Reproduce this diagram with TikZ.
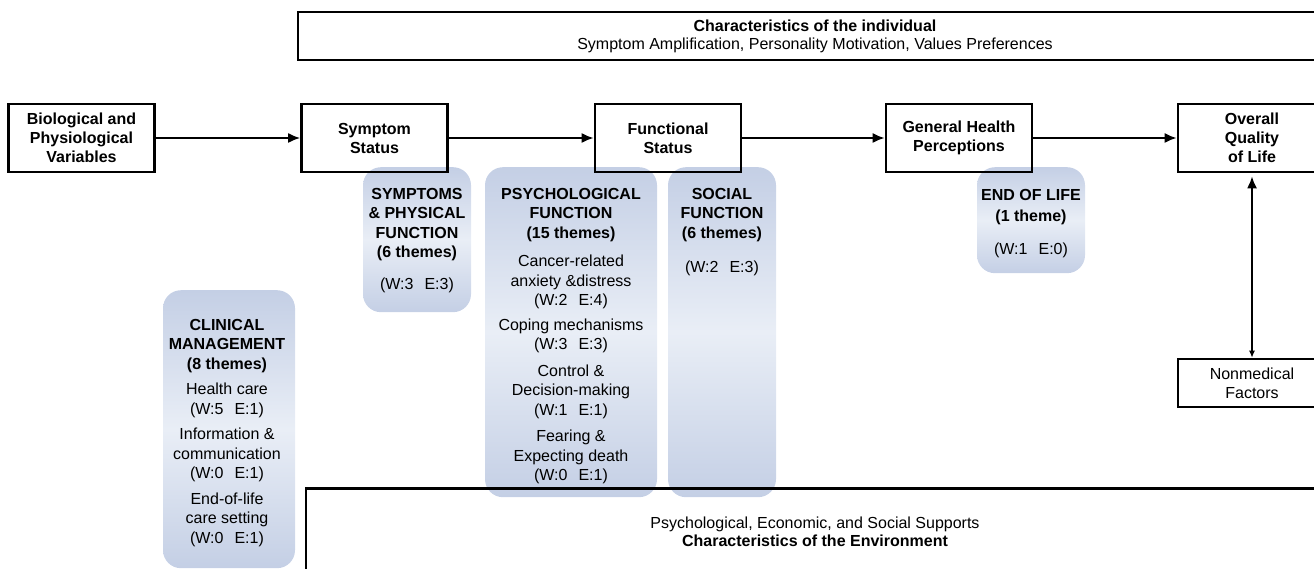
\documentclass[tikz,border=0pt]{standalone}
\usepackage{fontspec}
\setmainfont{Liberation Sans}
\usepackage{xcolor}
\usetikzlibrary{arrows.meta}
\definecolor{panelblue}{RGB}{196,207,229}
\definecolor{panellight}{RGB}{233,238,246}
\newcommand{\tally}[2]{(W:#1\hspace{11pt}E:#2)}

\begin{document}
\begin{tikzpicture}[x=1pt,y=-1pt,
  box/.style={draw,line width=2.6pt,minimum width=146pt,minimum height=68pt,align=center,font=\fontsize{16}{19}\selectfont\bfseries},
  wide/.style={draw,line width=2.4pt,align=center,font=\fontsize{16}{18}\selectfont},
  panel/.style={rounded corners=18pt,top color=panelblue,bottom color=panelblue,middle color=panellight,minimum width=108pt,anchor=north,inner sep=0pt},
  theme/.style={anchor=north,align=center,inner sep=0pt,font=\fontsize{16}{19.5}\selectfont},
  link/.style={line width=2pt,-{Latex[length=12pt,width=10pt]}}]
\clip (0,0) rectangle (1314,569);
\node[panel,minimum height=145pt] (symp) at (417,167) {};
\node[panel,minimum width=172pt,minimum height=330pt] (psyp) at (571,167) {};
\node[panel,minimum height=330pt] (socp) at (722,167) {};
\node[panel,minimum height=106pt] (eolp) at (1031,167) {};
\node[panel,minimum width=132pt,minimum height=278pt] (clip) at (229,290) {};
\node[wide,minimum width=1034pt,minimum height=48pt] (ind) at (815,36) {\textbf{Characteristics of the individual}\\Symptom Amplification, Personality Motivation, Values Preferences};
\node[wide,minimum width=1018pt,minimum height=86pt] (env) at (815,531.5) {Psychological, Economic, and Social Supports\\\textbf{Characteristics of the Environment}};
\node[box] (bio) at (81.5,138) {Biological and\\Physiological\\Variables};
\node[box] (sym) at (374.5,138) {Symptom\\Status};
\node[box] (fun) at (668,138) {Functional\\Status};
\node[box] (ghp) at (959,138) {General Health\\Perceptions};
\node[box,minimum width=148pt] (oql) at (1252,138) {Overall\\Quality\\of Life};
\node[box,minimum width=148pt,minimum height=48pt,font=\fontsize{16}{19}\selectfont] (nmf) at (1252,383) {Nonmedical\\Factors};
\draw[link] (bio.east) -- (sym.west);
\draw[link] (sym.east) -- (fun.west);
\draw[link] (fun.east) -- (ghp.west);
\draw[link] (ghp.east) -- (oql.west);
\draw[line width=2pt,{Latex[length=7pt,width=6pt]}-{Latex[length=12pt,width=10pt]},shorten >=3pt] (nmf.north) -- (oql.south);
\node[theme] (symt) at (417,188) {\textbf{SYMPTOMS}\\\textbf{\& PHYSICAL}\\\textbf{FUNCTION}\\\textbf{(6 themes)}\\[12pt]\tally{3}{3}};
\node[theme] (psyt) at (571,188) {\textbf{PSYCHOLOGICAL}\\\textbf{FUNCTION}\\\textbf{(15 themes)}\\[9pt]Cancer-related\\anxiety \&distress\\\tally{2}{4}\\[5pt]Coping mechanisms\\\tally{3}{3}\\[7pt]Control \&\\Decision-making\\\tally{1}{1}\\[7pt]Fearing \&\\Expecting death\\\tally{0}{1}};
\node[theme] (soct) at (722,188) {\textbf{SOCIAL}\\\textbf{FUNCTION}\\\textbf{(6 themes)}\\[15pt]\tally{2}{3}};
\node[theme] (eolt) at (1031,189) {\textbf{END OF LIFE}\\[2pt]\textbf{(1 theme)}\\[13pt]\tally{1}{0}};
\node[theme] (clit) at (227,319) {\textbf{CLINICAL}\\\textbf{MANAGEMENT}\\\textbf{(8 themes)}\\[6pt]Health care\\\tally{5}{1}\\[6pt]Information \&\\communication\\\tally{0}{1}\\[6pt]End-of-life\\care setting\\\tally{0}{1}};
\end{tikzpicture}
\end{document}
